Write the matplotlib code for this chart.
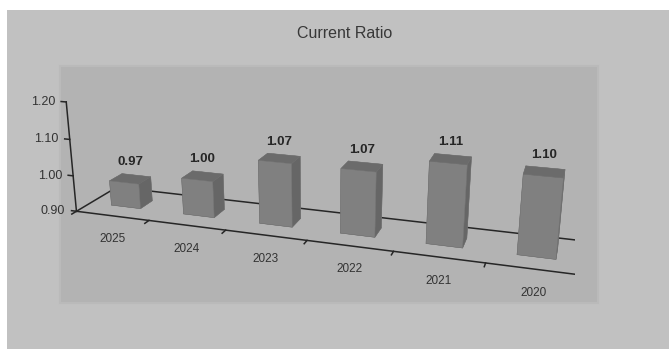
import numpy as np
import matplotlib.pyplot as plt
from matplotlib.patches import Rectangle
from mpl_toolkits.mplot3d import proj3d

# Current ratio by year
years = ['2025', '2024', '2023', '2022', '2021', '2020']
ratios = [0.97, 1.00, 1.07, 1.07, 1.11, 1.10]
value_ticks = [0.90, 1.00, 1.10, 1.20]

base, top = 0.90, 1.20
depth = 0.95        # floor depth, in category widths
bar_w = 0.41
bar_d = 0.30

plt.rcParams['font.family'] = ['Liberation Sans', 'DejaVu Sans']

fig = plt.figure(figsize=(6.69, 3.49), dpi=100, facecolor='white')
W, H = 669, 349

# chart area and plot area backdrops
fig.patches.append(Rectangle((7 / W, 0), 1, 1 - 10 / H, transform=fig.transFigure,
                             facecolor='#c1c1c1', edgecolor='none', zorder=-2))
fig.patches.append(Rectangle((60 / W, 1 - 303 / H), 538 / W, 237 / H,
                             transform=fig.transFigure, facecolor='#b3b3b3',
                             edgecolor='#bababa', lw=1.5, zorder=-1))

fig.text(345 / W, 1 - 33 / H, 'Current Ratio', ha='center', va='center',
         fontsize=11.5, color='#383838')

S = 524
ax = fig.add_axes([51 / W, -90 / H, S / W, S / H], projection='3d',
                  computed_zorder=False)
ax.set_proj_type('persp', focal_length=0.304)
ax.view_init(elev=18, azim=-72)
ax.set_box_aspect((len(years), depth, (top - base) * 4.6))
ax.set_xlim(0, len(years))
ax.set_ylim(0, depth)
ax.set_zlim(base, top)
ax.set_axis_off()
ax.patch.set_visible(False)

n = len(years)
xs = np.arange(n) + (1 - bar_w) / 2
ys = np.full(n, (depth - bar_d) / 2)
zs = np.full(n, base)
heights = np.array(ratios) - base
# faces: bottom, top, front, back, left, right
faces = ['#6a6a6a', '#6b6b6b', '#808080', '#808080', '#7a7a7a', '#666666'] * n
ax.bar3d(xs, ys, zs, bar_w, bar_d, heights, color=faces, shade=False,
         edgecolor='#707070', linewidth=0.3, zorder=2)

line_kw = dict(color='#262626', lw=1.1)
# floor outline: back and left behind the bars, front and right in front
ax.plot([0, n], [depth, depth], [base, base], zorder=1, **line_kw)
ax.plot([0, 0], [0, depth], [base, base], zorder=1, **line_kw)
ax.plot([0, n], [0, 0], [base, base], zorder=3, **line_kw)
ax.plot([n, n], [0, depth], [base, base], zorder=3, **line_kw)
# value axis
ax.plot([0, 0], [0, 0], [base, top], zorder=3, **line_kw)
for t in value_ticks:
    ax.plot([-0.07, 0], [0, 0], [t, t], zorder=3, **line_kw)
for k in range(n + 1):
    ax.plot([k, k], [0, -0.1], [base, base], zorder=3, **line_kw)

M = ax.get_proj()


def to2d(x, y, z):
    x2, y2, _ = proj3d.proj_transform(x, y, z, M)
    return x2, y2


for t in value_ticks:
    ax.annotate(f'{t:.2f}', to2d(0, 0, t), xytext=(-8, 0), textcoords='offset points',
                ha='right', va='center', fontsize=9, color='#333333')

for i, yr in enumerate(years):
    ax.annotate(yr, to2d(i + 0.5, 0, base), xytext=(0, -17), textcoords='offset points',
                ha='center', va='center', fontsize=8.5, color='#333333')

for i, v in enumerate(ratios):
    ax.annotate(f'{v:.2f}', to2d(i + 0.5, depth / 2, v), xytext=(0, 12),
                textcoords='offset points', ha='center', va='center',
                fontsize=9.5, fontweight='bold', color='#262626')

fig.savefig('out.png', dpi=100, facecolor=fig.get_facecolor())
